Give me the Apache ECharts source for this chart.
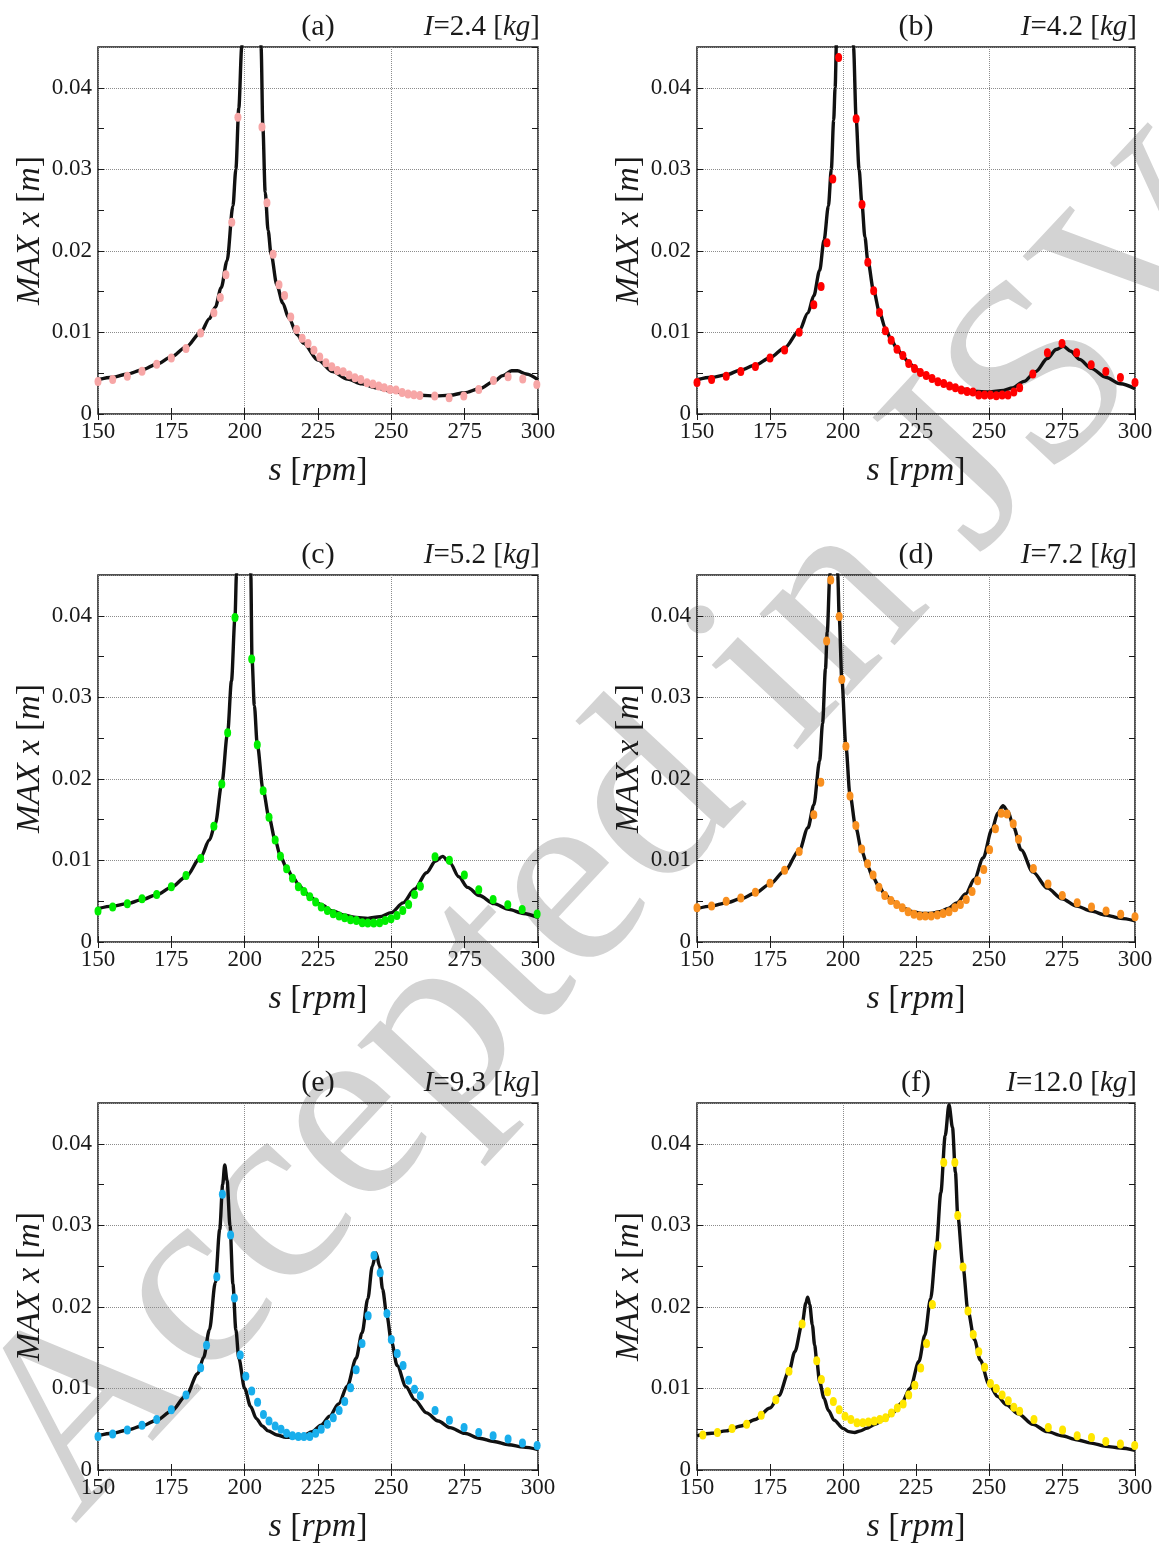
<!DOCTYPE html>
<html><head><meta charset="utf-8">
<script src="https://cdn.jsdelivr.net/npm/echarts@6/dist/echarts.min.js"></script>
<style>html,body{margin:0;padding:0;background:#fff}#c{width:1159px;height:1548px}</style>
</head><body><div id="c"></div>
<script>
// ---------- data ----------
const panelTags = ['(a)', '(b)', '(c)', '(d)', '(e)', '(f)'];
const inertiaValues = ['2.4', '4.2', '5.2', '7.2', '9.3', '12.0'];
const dotColors = ['#f7a6a6', '#ff0000', '#00ee00', '#f88f1f', '#19aeec', '#ffe600'];
const xTickLabels = ['150', '175', '200', '225', '250', '275', '300'];
const yTickLabels = ['0', '0.01', '0.02', '0.03', '0.04'];
const xRange = [150, 300];
const yRange = [0, 0.045];
const watermarkText = 'Accepted in JSV';

const curveA = [[150,0.0042],[155,0.0045],[160,0.0049],[165,0.0054],[170,0.0061],[175,0.0070],[180,0.0082],[185,0.0100],[188,0.0117],[190,0.0131],[192,0.0155],[194,0.0188],[196,0.0255],[197,0.0300],[198,0.0375],[199,0.0450],[199.6,0.052],[202.5,0.09],[205.3,0.052],[205.6,0.045],[206.2,0.0352],[207,0.0272],[208,0.0225],[209,0.0196],[211,0.0158],[213,0.0136],[215,0.0118],[218,0.0097],[220,0.0087],[225,0.0066],[230,0.0052],[235,0.0043],[240,0.0037],[245,0.0032],[250,0.0028],[255,0.0025],[260,0.0023],[265,0.0022],[270,0.0023],[275,0.0026],[280,0.0031],[285,0.0040],[288,0.0047],[291,0.0053],[293,0.0053],[296,0.0049],[300,0.0042]];
const dotsA = [[150,0.0040],[155,0.00424],[160,0.00464],[165,0.00525],[170,0.00611],[175,0.00688],[180,0.00802],[185,0.00994],[189.5,0.01242],[191.7,0.0143],[193.6,0.01707],[195.6,0.0235],[197.7,0.0364],[205.9,0.0352],[207.6,0.0259],[209.7,0.0196],[211.7,0.01585],[213.6,0.01454],[215.7,0.0119],[217.7,0.01035],[219.6,0.00929],[221.6,0.00864],[223.6,0.00782],[225.6,0.0070],[227.7,0.00627],[229.7,0.00578],[231.6,0.00534],[233.6,0.00517],[235.6,0.00477],[237.6,0.00444],[239.6,0.00424],[241.7,0.00383],[243.7,0.00367],[245.7,0.00342],[247.6,0.00322],[249.6,0.00301],[251.6,0.00293],[253.7,0.00265],[255.7,0.00244],[257.7,0.00236],[259.7,0.00228],[264.8,0.0022],[269.7,0.0020],[274.7,0.0022],[279.8,0.00301],[284.8,0.00411],[289.8,0.00456],[294.8,0.00428],[299.6,0.00363]];

const curveB = [[150,0.0042],[155,0.0045],[160,0.0048],[165,0.0054],[170,0.0060],[175,0.0069],[180,0.0081],[185,0.0102],[188,0.0124],[190,0.0145],[192,0.0176],[193.5,0.0213],[195,0.0255],[196,0.0300],[196.8,0.0360],[197.3,0.0400],[197.8,0.0460],[198.3,0.055],[201,0.09],[203.2,0.055],[203.6,0.0450],[204.5,0.0362],[205.5,0.0300],[206.5,0.0257],[207.5,0.0217],[208.5,0.0188],[210.5,0.0151],[212.5,0.0125],[214.5,0.0105],[216.5,0.0091],[218.5,0.0080],[220.5,0.0071],[222.5,0.0063],[225,0.0055],[228,0.0048],[232,0.0041],[236,0.0035],[240,0.0031],[245,0.0028],[250,0.0027],[255,0.0029],[258,0.0032],[262,0.0040],[266,0.0052],[270,0.0068],[273,0.0079],[275.5,0.0083],[278,0.0077],[281,0.0067],[285,0.0056],[290,0.0045],[295,0.0037],[300,0.0031]];
const dotsB = [[150,0.00387],[155,0.00424],[160,0.00464],[165,0.0052],[170,0.00582],[175,0.00688],[180,0.00786],[185,0.01002],[190,0.0134],[192.5,0.01564],[194.5,0.0210],[196.5,0.0288],[198.5,0.0437],[204.5,0.0362],[206.5,0.0257],[208.5,0.0186],[210.5,0.0151],[212.5,0.01246],[214.5,0.01022],[216.5,0.00904],[218.5,0.00794],[220.5,0.00717],[222.5,0.00619],[224.5,0.00558],[226.5,0.00509],[228.5,0.00472],[230.5,0.00436],[232.5,0.00395],[234.5,0.00375],[236.5,0.00342],[238.5,0.00322],[240.5,0.00293],[242.5,0.00277],[244.5,0.00269],[246.5,0.00232],[248.5,0.00232],[250.5,0.00232],[252.5,0.00224],[254.5,0.00232],[256.5,0.00232],[258.5,0.00269],[260.5,0.00322],[265,0.00489],[270,0.0075],[275,0.00864],[280,0.0075],[285,0.00603],[290,0.00521],[295,0.00448],[300,0.00387]];

const curveC = [[150,0.0041],[155,0.0044],[160,0.0047],[165,0.0052],[170,0.0058],[175,0.0067],[180,0.0080],[185,0.0104],[188,0.0125],[190,0.0145],[192.2,0.0194],[194.2,0.0257],[195.5,0.0320],[196.7,0.0398],[197.2,0.0450],[197.7,0.053],[199.8,0.09],[201.8,0.053],[202.1,0.0450],[202.5,0.0347],[203.3,0.0290],[204.3,0.0242],[206.3,0.0186],[208.3,0.0153],[210.4,0.0125],[212.2,0.0105],[214.3,0.0091],[216.3,0.0080],[218.3,0.0071],[220,0.0064],[222,0.0056],[226,0.0046],[230,0.0038],[234,0.0033],[238,0.0030],[242,0.0029],[246,0.0031],[250,0.0036],[254,0.0048],[258,0.0065],[262,0.0085],[265,0.0099],[267.5,0.0105],[270,0.0097],[273,0.0080],[276,0.0067],[280,0.0057],[285,0.0047],[290,0.0040],[295,0.0035],[300,0.0030]];
const dotsC = [[150,0.00379],[155,0.00428],[160,0.00469],[165,0.0053],[170,0.00583],[175,0.00677],[180,0.00815],[185,0.01023],[189.5,0.01419],[192.2,0.01937],[194.2,0.02565],[196.7,0.0398],[202.4,0.0347],[204.3,0.0242],[206.3,0.01855],[208.3,0.01529],[210.4,0.01252],[212.2,0.01052],[214.3,0.00897],[216.3,0.00783],[218.3,0.00677],[220.2,0.0062],[222.2,0.00555],[224.2,0.00489],[226.1,0.00428],[228.2,0.00387],[230.2,0.00346],[232.2,0.00318],[234.1,0.00298],[236.1,0.00273],[238.1,0.00265],[240.1,0.00236],[242,0.00232],[244,0.00232],[246,0.00236],[247.9,0.00265],[249.9,0.00285],[251.9,0.00326],[253.9,0.00387],[255.9,0.00461],[257.9,0.00583],[259.9,0.00685],[264.9,0.01044],[269.8,0.01003],[274.9,0.0082],[279.8,0.0064],[284.7,0.00522],[289.7,0.00457],[294.6,0.004],[299.7,0.00343]];

const curveD = [[150,0.0041],[155,0.0044],[160,0.0048],[165,0.0053],[170,0.0060],[175,0.0071],[180,0.0087],[185,0.0112],[188,0.0140],[190,0.0168],[192,0.0222],[193,0.0268],[194,0.0335],[194.6,0.0380],[195.5,0.0450],[196.2,0.053],[196.9,0.062],[197.6,0.053],[198.2,0.0450],[198.7,0.0399],[199.6,0.0322],[201,0.0240],[202.4,0.0180],[204.4,0.0140],[206.4,0.0112],[208.4,0.0093],[210.3,0.0079],[212.3,0.0068],[214.3,0.0059],[216.4,0.0052],[218.4,0.0047],[221,0.0041],[224,0.0037],[227,0.0035],[230,0.0035],[233,0.0037],[236,0.0041],[239,0.0048],[242,0.0059],[245,0.0077],[248,0.0103],[251,0.0138],[253,0.0158],[254.8,0.0167],[256.5,0.0160],[258.5,0.0140],[261,0.0113],[265,0.0086],[270,0.0066],[275,0.0053],[280,0.0044],[285,0.0038],[290,0.0033],[295,0.0029],[300,0.0026]];
const dotsD = [[150,0.0042],[155,0.0044],[160,0.0050],[165,0.0054],[170,0.0061],[175,0.0072],[180,0.0088],[185,0.0111],[190,0.0156],[192.4,0.0196],[194.4,0.0369],[195.8,0.0444],[198.7,0.0399],[199.6,0.0322],[201,0.0240],[202.4,0.0179],[204.4,0.0143],[206.4,0.0114],[208.4,0.0096],[210.3,0.0082],[212.3,0.0067],[214.3,0.0057],[216.4,0.0051],[218.4,0.0046],[220.3,0.0042],[222.3,0.0037],[224.3,0.0034],[226.3,0.0032],[228.2,0.0032],[230.2,0.0032],[232.3,0.0033],[234.3,0.0035],[236.3,0.0037],[238.3,0.0042],[240.2,0.0046],[242.2,0.0052],[244.2,0.0062],[246.1,0.0075],[248.2,0.0089],[250.2,0.0113],[252.2,0.0139],[254.2,0.0158],[256.2,0.0157],[258.3,0.0145],[260.1,0.0126],[265.2,0.0090],[270.2,0.0071],[275.1,0.0057],[280.2,0.0048],[285.1,0.0043],[290.1,0.0038],[295.1,0.0034],[300,0.0031]];

const curveE = [[150,0.0042],[155,0.0045],[160,0.0049],[165,0.0054],[170,0.0061],[175,0.0072],[180,0.0091],[184,0.0118],[186,0.0138],[188,0.0172],[190,0.0230],[191.5,0.0295],[192.5,0.0350],[193.2,0.0374],[194,0.0355],[195,0.0300],[196,0.0228],[197,0.0172],[198,0.0137],[200,0.0100],[202,0.0078],[204,0.0063],[206,0.0054],[208,0.0048],[211,0.0043],[214,0.0040],[217,0.0040],[220,0.0042],[223,0.0047],[226,0.0055],[229,0.0066],[232,0.0081],[235,0.0103],[238,0.0137],[240,0.0168],[242,0.0210],[243.5,0.0250],[244.8,0.0266],[246,0.0250],[247,0.0222],[248.5,0.0189],[250,0.0158],[252,0.0128],[255,0.0102],[258,0.0086],[262,0.0070],[266,0.0060],[270,0.0052],[275,0.0045],[280,0.0039],[285,0.0035],[290,0.0031],[295,0.0028],[300,0.0025]];
const dotsE = [[150,0.0041],[155,0.0044],[160,0.0049],[165,0.0055],[170,0.0062],[175,0.0074],[180,0.0092],[185,0.01255],[187,0.0153],[190.5,0.0237],[192.4,0.0338],[195.2,0.0288],[196.5,0.0211],[198.5,0.0141],[200.4,0.0115],[202.4,0.0097],[204.4,0.0083],[206.4,0.0068],[208.3,0.0060],[210.4,0.0054],[212.4,0.0050],[214.3,0.0045],[216.3,0.0042],[218.3,0.0041],[220.2,0.0041],[222.2,0.0041],[224.2,0.0045],[226.1,0.0050],[228.2,0.0056],[230.2,0.0064],[232.2,0.0073],[234.1,0.0084],[236.1,0.0101],[238,0.0123],[240,0.0155],[242.1,0.0189],[244.1,0.0263],[246.2,0.0242],[248.5,0.0192],[250,0.0160],[252,0.0143],[254,0.0128],[255.9,0.0110],[257.9,0.0099],[259.9,0.0091],[264.9,0.0073],[269.8,0.0061],[274.8,0.0052],[279.8,0.0046],[284.7,0.0042],[289.8,0.0038],[294.7,0.0033],[299.7,0.0030]];

const curveF = [[150,0.0042],[155,0.0045],[160,0.0048],[165,0.0054],[170,0.0062],[175,0.0076],[178,0.0091],[181.5,0.0121],[183.5,0.0145],[186,0.0179],[187.3,0.0205],[187.9,0.0212],[188.6,0.0203],[189.5,0.0178],[190.3,0.0153],[191,0.0134],[192,0.0108],[193.5,0.0088],[195,0.0073],[197,0.0061],[200,0.0051],[202,0.0047],[204,0.0046],[206,0.0048],[208,0.0051],[211,0.0056],[214,0.0062],[217,0.0070],[220,0.0082],[223,0.0100],[226,0.0133],[228,0.0165],[230,0.0210],[232,0.0275],[233.5,0.0340],[235,0.0410],[236.3,0.0448],[237.5,0.0420],[238.5,0.0365],[239.3,0.0312],[241.1,0.0249],[242.8,0.0195],[245,0.0160],[247,0.0135],[250,0.0105],[253,0.0090],[256,0.0080],[260,0.0069],[265,0.0056],[270,0.0047],[275,0.0042],[280,0.0037],[285,0.0033],[290,0.0029],[295,0.0027],[300,0.0024]];
const dotsF = [[152,0.0043],[157,0.0046],[162,0.0051],[167,0.0056],[172,0.0067],[177,0.0086],[181.5,0.0121],[186,0.0179],[191,0.0134],[192.6,0.0111],[194.7,0.0096],[196.7,0.0084],[198.7,0.0074],[200.7,0.0066],[202.7,0.0062],[204.8,0.0058],[206.8,0.0058],[208.7,0.0059],[210.7,0.0060],[212.6,0.0062],[214.6,0.0064],[216.6,0.0070],[218.6,0.0076],[220.6,0.0081],[222.5,0.0092],[224.6,0.0104],[226.6,0.0125],[228.6,0.0155],[230.6,0.0203],[232.5,0.0275],[234.5,0.0377],[238.3,0.0377],[239.3,0.0312],[241.1,0.0249],[242.8,0.0195],[244.6,0.0166],[246.5,0.0145],[248.5,0.0126],[250.5,0.0106],[252.5,0.0100],[254.5,0.0092],[256.6,0.0085],[258.5,0.0077],[260.5,0.0072],[265.4,0.0062],[270.3,0.0052],[275.2,0.0049],[280.2,0.0042],[285.1,0.0040],[290,0.0035],[295,0.0032],[299.9,0.0030]];

const curves = [curveA, curveB, curveC, curveD, curveE, curveF];
const dots = [dotsA, dotsB, dotsC, dotsD, dotsE, dotsF];

// ---------- layout / style ----------
const FONT = 'Liberation Serif';
const INK = '#1a1a1a';
const colLeft = [98, 697];
const colWidth = [440, 438];
const rowTop = [47, 575, 1103];
const plotH = 367;

const nameRich = {
  i: { fontFamily: FONT, fontStyle: 'italic', fontSize: 34, color: INK },
  n: { fontFamily: FONT, fontStyle: 'normal', fontSize: 34, color: INK }
};
const tickStyle = { show: true, inside: true, length: 6, lineStyle: { color: INK, width: 1 } };
const labelStyle = { fontFamily: FONT, fontSize: 23, color: INK };

function xLabel(v) {
  const i = xTickLabels.indexOf(String(Math.round(v)));
  return i >= 0 ? xTickLabels[i] : '';
}
function yLabel(v) {
  const r = Math.round(v * 1000);
  if (r % 10 !== 0) return '';
  const idx = r / 10;
  return yTickLabels[idx] !== undefined ? yTickLabels[idx] : '';
}

const grid = [], xAxis = [], yAxis = [], series = [], graphic = [];

// watermark (behind everything)
graphic.push({
  type: 'text', silent: true, z: -10,
  x: 24, y: 1478, rotation: 47 * Math.PI / 180,
  style: { text: watermarkText, fontFamily: FONT, fontSize: 262, fill: '#d3d3d3',
           textAlign: 'left', textVerticalAlign: 'middle' }
});

panelTags.forEach((tag, k) => {
  const row = Math.floor(k / 2), col = k % 2;
  const left = colLeft[col], top = rowTop[row], w = colWidth[col];
  grid.push({ left: left, top: top, width: w, height: plotH, show: true,
              borderColor: INK, borderWidth: 1.5, backgroundColor: 'transparent', containLabel: false });

  // x axes: labelled bottom, ticks top, gridlines
  xAxis.push({ gridIndex: k, type: 'value', min: xRange[0], max: xRange[1], interval: 25, position: 'bottom',
    axisLine: { show: false }, axisTick: tickStyle,
    axisLabel: Object.assign({ margin: 6, formatter: xLabel }, labelStyle),
    splitLine: { show: false },
    name: '{i|s}{n| [}{i|rpm}{n|]}', nameLocation: 'middle', nameGap: 40,
    nameTextStyle: { rich: nameRich } });
  xAxis.push({ gridIndex: k, type: 'value', min: xRange[0], max: xRange[1], interval: 25, position: 'top',
    axisLine: { show: false }, axisTick: tickStyle, axisLabel: { show: false }, splitLine: { show: false } });
  xAxis.push({ gridIndex: k, type: 'value', min: xRange[0], max: xRange[1], interval: 50, position: 'bottom',
    axisLine: { show: false }, axisTick: { show: false }, axisLabel: { show: false },
    splitLine: { show: true, lineStyle: { type: 'dotted', color: '#8c8c8c', width: 1 } } });

  // y axes
  yAxis.push({ gridIndex: k, type: 'value', min: yRange[0], max: yRange[1], interval: 0.005, position: 'left',
    axisLine: { show: false }, axisTick: tickStyle,
    axisLabel: Object.assign({ margin: 6, formatter: yLabel, showMaxLabel: false }, labelStyle),
    splitLine: { show: false },
    name: '{i|MAX x}{n| [}{i|m}{n|]}', nameLocation: 'middle', nameGap: 51, nameRotate: 90,
    nameTextStyle: { rich: nameRich } });
  yAxis.push({ gridIndex: k, type: 'value', min: yRange[0], max: yRange[1], interval: 0.005, position: 'right',
    axisLine: { show: false }, axisTick: tickStyle, axisLabel: { show: false }, splitLine: { show: false } });
  yAxis.push({ gridIndex: k, type: 'value', min: yRange[0], max: yRange[1], interval: 0.01, position: 'left',
    axisLine: { show: false }, axisTick: { show: false }, axisLabel: { show: false },
    splitLine: { show: true, lineStyle: { type: 'dotted', color: '#8c8c8c', width: 1 } } });

  series.push({ type: 'line', xAxisIndex: 3 * k, yAxisIndex: 3 * k, data: curves[k],
    showSymbol: false, smooth: 0.3, smoothMonotone: 'x', clip: true, z: 3, silent: true,
    lineStyle: { color: '#111', width: 3.4 } });
  series.push({ type: 'scatter', xAxisIndex: 3 * k, yAxisIndex: 3 * k, data: dots[k],
    symbol: 'circle', symbolSize: [7, 9], clip: false, z: 4, silent: true,
    itemStyle: { color: dotColors[k], opacity: 1 } });

  // titles
  const ty = top - 20;
  graphic.push({ type: 'text', silent: true, x: left + w / 2, y: ty,
    style: { text: tag, fontFamily: FONT, fontSize: 30, fill: INK, textAlign: 'center', textVerticalAlign: 'middle' } });
  graphic.push({ type: 'text', silent: true, x: left + w + 2, y: ty,
    style: { text: '{i|I}{n|=' + inertiaValues[k] + ' [}{i|kg}{n|]}', textAlign: 'right', textVerticalAlign: 'middle',
      fontFamily: FONT, fontSize: 29, fill: INK,
      rich: { i: { fontFamily: FONT, fontStyle: 'italic', fontSize: 29, fill: INK },
              n: { fontFamily: FONT, fontStyle: 'normal', fontSize: 29, fill: INK } } } });
});

const chart = echarts.init(document.getElementById('c'), null, { renderer: 'canvas' });
chart.setOption({
  animation: false,
  backgroundColor: '#ffffff',
  grid: grid, xAxis: xAxis, yAxis: yAxis, series: series, graphic: graphic
});
</script></body></html>
